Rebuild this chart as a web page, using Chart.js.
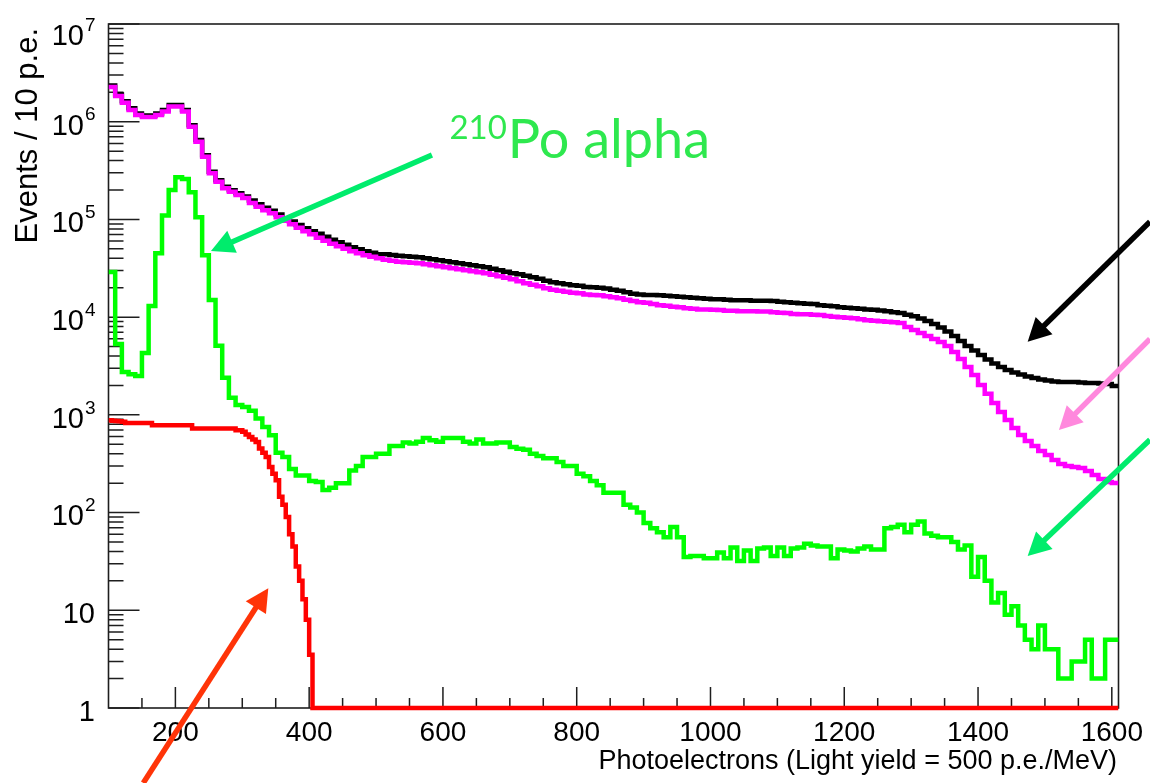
<!DOCTYPE html>
<html>
<head>
<meta charset="utf-8">
<title>Photoelectron spectrum</title>
<script src="https://cdn.jsdelivr.net/npm/chart.js@4.4.1/dist/chart.umd.min.js"></script>
<style>
  html, body { margin: 0; padding: 0; background: #ffffff; }
  #wrap { width: 1150px; height: 783px; position: relative; }
  canvas { display: block; }
</style>
</head>
<body>
<div id="wrap"><canvas id="spectrum" width="1150" height="783"></canvas></div>
<script>
// ---- Histogram binning (photoelectrons) ----
const BIN_START = 100;      // p.e.
const BIN_WIDTH = 10;       // p.e. per bin
const X_MIN = 100;
const X_MAX = 1610;

// ---- Counts per 10 p.e. bin, starting at 100 p.e. ----
const blackCounts = [
  2.35e6, 1.9e6, 1.62e6, 1.37e6, 1.21e6, 1.16e6, 1.16e6, 1.21e6, 1.32e6, 1.48e6,
  1.48e6, 1.32e6, 9.2e5, 6.5e5, 4.55e5, 3.08e5, 2.52e5, 2.16e5, 1.99e5, 1.85e5,
  1.72e5, 1.56e5, 1.43e5, 1.32e5, 1.23e5, 1.12e5, 1.03e5, 9.5e4, 8.75e4, 8.1e4,
  7.55e4, 7.15e4, 6.65e4, 6.2e4, 5.85e4, 5.5e4, 5.2e4, 4.96e4, 4.73e4, 4.56e4,
  4.41e4, 4.4e4, 4.33e4, 4.25e4, 4.2e4, 4.15e4, 4.1e4, 4.0e4, 3.92e4, 3.82e4,
  3.73e4, 3.64e4, 3.56e4, 3.48e4, 3.4e4, 3.32e4, 3.24e4, 3.13e4, 3.02e4, 2.91e4,
  2.81e4, 2.74e4, 2.65e4, 2.56e4, 2.47e4, 2.36e4, 2.28e4, 2.22e4, 2.17e4, 2.12e4,
  2.1e4, 2.04e4, 2.02e4, 2.0e4, 1.96e4, 1.91e4, 1.86e4, 1.8e4, 1.74e4, 1.71e4,
  1.69e4, 1.69e4, 1.68e4, 1.66e4, 1.64e4, 1.62e4, 1.6e4, 1.58e4, 1.56e4, 1.54e4,
  1.52e4, 1.52e4, 1.51e4, 1.49e4, 1.49e4, 1.49e4, 1.47e4, 1.47e4, 1.47e4, 1.46e4,
  1.44e4, 1.42e4, 1.4e4, 1.39e4, 1.37e4, 1.36e4, 1.32e4, 1.31e4, 1.29e4, 1.26e4,
  1.25e4, 1.23e4, 1.22e4, 1.2e4, 1.19e4, 1.17e4, 1.15e4, 1.12e4, 1.1e4, 1.06e4,
  1.02e4, 9.69e3, 9.14e3, 8.51e3, 7.84e3, 7.13e3, 6.42e3, 5.7e3, 5.07e3, 4.56e3,
  4.1e3, 3.69e3, 3.36e3, 3.09e3, 2.88e3, 2.71e3, 2.59e3, 2.47e3, 2.38e3, 2.3e3,
  2.25e3, 2.19e3, 2.17e3, 2.17e3, 2.17e3, 2.14e3, 2.12e3, 2.12e3, 2.09e3, 2.07e3,
  1.97e3
];

const magentaCounts = [
  2.27e6, 1.83e6, 1.56e6, 1.32e6, 1.17e6, 1.12e6, 1.12e6, 1.17e6, 1.27e6, 1.43e6,
  1.43e6, 1.27e6, 8.9e5, 6.25e5, 4.39e5, 2.97e5, 2.43e5, 2.08e5, 1.92e5, 1.78e5,
  1.66e5, 1.47e5, 1.35e5, 1.24e5, 1.16e5, 1.05e5, 9.7e4, 8.93e4, 8.22e4, 7.57e4,
  7.06e4, 6.5e4, 6.05e4, 5.64e4, 5.32e4, 5.01e4, 4.73e4, 4.51e4, 4.3e4, 4.15e4,
  4.01e4, 3.87e4, 3.78e4, 3.69e4, 3.65e4, 3.6e4, 3.56e4, 3.48e4, 3.4e4, 3.32e4,
  3.24e4, 3.16e4, 3.09e4, 3.02e4, 2.95e4, 2.88e4, 2.81e4, 2.72e4, 2.62e4, 2.53e4,
  2.44e4, 2.33e4, 2.22e4, 2.15e4, 2.07e4, 1.98e4, 1.91e4, 1.86e4, 1.82e4, 1.78e4,
  1.76e4, 1.71e4, 1.69e4, 1.68e4, 1.64e4, 1.6e4, 1.56e4, 1.51e4, 1.46e4, 1.42e4,
  1.4e4, 1.36e4, 1.32e4, 1.31e4, 1.28e4, 1.26e4, 1.23e4, 1.22e4, 1.2e4, 1.2e4,
  1.19e4, 1.18e4, 1.16e4, 1.16e4, 1.15e4, 1.15e4, 1.15e4, 1.14e4, 1.14e4, 1.12e4,
  1.11e4, 1.1e4, 1.08e4, 1.07e4, 1.07e4, 1.06e4, 1.05e4, 1.03e4, 1.01e4, 9.98e3,
  9.86e3, 9.75e3, 9.51e3, 9.29e3, 9.19e3, 9.08e3, 8.95e3, 8.85e3, 8.71e3, 7.93e3,
  7.39e3, 6.89e3, 6.42e3, 5.98e3, 5.57e3, 5.07e3, 4.4e3, 3.73e3, 3.09e3, 2.56e3,
  2.02e3, 1.64e3, 1.32e3, 1.07e3, 886, 734, 622, 540, 480, 427,
  388, 345, 314, 300, 293, 286, 267, 243, 221, 206,
  201
];

const greenCounts = [
  2.9e4, 5.3e3, 2.75e3, 2.6e3, 2.5e3, 4.3e3, 1.3e4, 4.5e4, 1.1e5, 2.0e5,
  2.7e5, 2.6e5, 1.9e5, 1.05e5, 4.3e4, 1.5e4, 5.1e3, 2.4e3, 1.5e3, 1.26e3,
  1.2e3, 1.1e3, 920, 750, 620, 410, 370, 280, 240, 240,
  210, 205, 170, 180, 200, 200, 270, 300, 370, 370,
  400, 400, 480, 480, 520, 510, 530, 580, 550, 530,
  580, 580, 580, 530, 510, 560, 510, 510, 520, 520,
  470, 450, 440, 400, 380, 360, 360, 330, 300, 300,
  250, 235, 210, 190, 160, 160, 160, 120, 113, 100,
  78, 69, 63, 56, 71, 56, 35, 36, 36, 34,
  34, 39, 34, 44, 32, 41, 32, 43, 44, 36,
  44, 36, 43, 44, 48, 46, 45, 45, 34, 42,
  41, 40, 43, 45, 42, 42, 69, 71, 75, 63,
  75, 81, 61, 58, 56, 56, 50, 42, 46, 22,
  35, 20, 12, 15, 9, 11, 7, 5, 4, 7,
  4, 4, 2, 2, 3, 3, 5, 2, 2, 5,
  5
];

// Red component uses finer 5 p.e. bins from 100 p.e.; the bins above are empty.
const RED_BIN_START = 100;
const RED_BIN_WIDTH = 5;
const redCounts = [
  880, 870, 865, 860, 850,
  826, 826, 826, 826, 826, 826, 826, 826,
  783, 783, 783, 783, 783, 783, 783, 783, 783, 783, 783, 783,
  724, 724, 724, 724, 724, 724, 724, 724, 724, 724, 724, 724, 724,
  695, 695, 670, 630, 594, 560, 528, 452, 410, 370,
  293, 250, 214, 145, 120, 90, 60, 45, 28, 20,
  13, 8, 3.5
];

// ---- Axis ticks and labels ----
const xMajorTicks = [200, 400, 600, 800, 1000, 1200, 1400, 1600];
const xMinorTicks = [150, 250, 300, 350, 450, 500, 550, 650, 700, 750, 850, 900, 950,
  1050, 1100, 1150, 1250, 1300, 1350, 1450, 1500, 1550];
const yDecades = [0, 1, 2, 3, 4, 5, 6, 7];
const xTitle = 'Photoelectrons (Light yield = 500 p.e./MeV)';
const yTitle = 'Events / 10 p.e.';

// ---- Annotation arrows, given in data units [p.e., events] ----
const arrows = [
  { from: [583.6, 4.57e5], to: [253.2, 4.75e4], color: '#00ec6c' },
  { from: [1657, 9.48e4],  to: [1474.2, 5.61e3], color: '#000000' },
  { from: [1657, 5.98e3],  to: [1521, 700],     color: '#ff88dd' },
  { from: [1657, 556],     to: [1474.2, 35.9],  color: '#00ec6c' },
  { from: [152, 0.171],    to: [338.9, 16.8],   color: '#ff3408' }
];
const poLabel = { at: [697, 4.26e5], mass: '210', text: 'Po alpha', color: '#2ee84e' };

// Step outline points at the low edge of each bin, closed at the last upper edge.
function histogram(start, width, counts) {
  const pts = counts.map((c, i) => ({ x: start + i * width, y: c }));
  pts.push({ x: start + counts.length * width, y: counts[counts.length - 1] });
  return pts;
}

const redPoints = redCounts.map((c, i) => ({ x: RED_BIN_START + i * RED_BIN_WIDTH, y: c }));
redPoints.push({ x: RED_BIN_START + redCounts.length * RED_BIN_WIDTH, y: 0 });
redPoints.push({ x: X_MAX, y: 0 });

const FONT = '"Liberation Sans", Arial, Helvetica, sans-serif';
const LABEL_FONT = 'Lato, "Open Sans", sans-serif';

const frameAndLabels = {
  id: 'frameAndLabels',
  beforeDatasetsDraw(chart) {
    const { ctx, chartArea: a, scales: { x, y } } = chart;
    ctx.save();
    // frame
    ctx.strokeStyle = '#1e1e1e';
    ctx.lineWidth = 1.6;
    ctx.strokeRect(a.left, a.top, a.right - a.left, a.bottom - a.top);

    // ticks pointing inward
    ctx.lineWidth = 1.5;
    ctx.beginPath();
    xMajorTicks.forEach(v => {
      const px = x.getPixelForValue(v);
      ctx.moveTo(px, a.bottom); ctx.lineTo(px, a.bottom - 21);
    });
    xMinorTicks.forEach(v => {
      const px = x.getPixelForValue(v);
      ctx.moveTo(px, a.bottom); ctx.lineTo(px, a.bottom - 10);
    });
    yDecades.forEach(d => {
      const py = y.getPixelForValue(Math.pow(10, d));
      ctx.moveTo(a.left, py); ctx.lineTo(a.left + 31, py);
      if (d < 7) {
        for (let m = 2; m <= 9; m++) {
          const pm = y.getPixelForValue(m * Math.pow(10, d));
          ctx.moveTo(a.left, pm); ctx.lineTo(a.left + 15, pm);
        }
      }
    });
    ctx.stroke();

    // tick labels
    ctx.fillStyle = '#000';
    ctx.font = '28px ' + FONT;
    ctx.textAlign = 'center';
    ctx.textBaseline = 'alphabetic';
    xMajorTicks.forEach(v => {
      ctx.fillText(String(v), x.getPixelForValue(v), 741);
    });

    yDecades.forEach(d => {
      const py = y.getPixelForValue(Math.pow(10, d));
      const shift = d === 7 ? 11 : 2.5;
      const base = py + shift + 10.4;
      ctx.font = '29px ' + FONT;
      if (d === 0) {
        ctx.textAlign = 'right';
        ctx.fillText('1', 95, base);
      } else if (d === 1) {
        ctx.textAlign = 'right';
        ctx.fillText('10', 95, base);
      } else {
        ctx.textAlign = 'right';
        ctx.fillText('10', 84, base);
        ctx.font = '19px ' + FONT;
        ctx.textAlign = 'left';
        ctx.fillText(String(d), 85, base - 14.2);
      }
    });

    // axis titles
    ctx.font = '27px ' + FONT;
    ctx.textAlign = 'right';
    ctx.fillText(xTitle, 1117, 769);

    ctx.save();
    ctx.translate(37, 28);
    ctx.rotate(-Math.PI / 2);
    ctx.font = '31px ' + FONT;
    ctx.textAlign = 'right';
    ctx.fillText(yTitle, 0, 0);
    ctx.restore();

    ctx.restore();
  },
  afterDatasetsDraw(chart) {
    const { ctx, scales: { x, y } } = chart;
    ctx.save();
    arrows.forEach(arw => {
      const x0 = x.getPixelForValue(arw.from[0]), y0 = y.getPixelForValue(arw.from[1]);
      const x1 = x.getPixelForValue(arw.to[0]), y1 = y.getPixelForValue(arw.to[1]);
      const ang = Math.atan2(y1 - y0, x1 - x0);
      const headLen = 23, headHalf = 12;
      const bx = x1 - headLen * Math.cos(ang), by = y1 - headLen * Math.sin(ang);
      ctx.strokeStyle = arw.color;
      ctx.fillStyle = arw.color;
      ctx.lineWidth = 5.5;
      ctx.lineCap = 'butt';
      ctx.beginPath();
      ctx.moveTo(x0, y0);
      ctx.lineTo(bx + 2 * Math.cos(ang), by + 2 * Math.sin(ang));
      ctx.stroke();
      ctx.beginPath();
      ctx.moveTo(x1, y1);
      ctx.lineTo(bx + headHalf * Math.sin(ang), by - headHalf * Math.cos(ang));
      ctx.lineTo(bx - headHalf * Math.sin(ang), by + headHalf * Math.cos(ang));
      ctx.closePath();
      ctx.fill();
    });

    // isotope label
    const lx = x.getPixelForValue(poLabel.at[0]);
    const ly = y.getPixelForValue(poLabel.at[1]);
    ctx.fillStyle = poLabel.color;
    ctx.textBaseline = 'alphabetic';
    ctx.font = '54px ' + LABEL_FONT;
    ctx.textAlign = 'left';
    ctx.fillText(poLabel.text, lx, ly);
    ctx.font = '33px ' + LABEL_FONT;
    ctx.textAlign = 'right';
    ctx.fillText(poLabel.mass, lx - 1, ly - 19);
    ctx.restore();
  }
};

const lineStyle = {
  stepped: true,
  pointRadius: 0,
  pointHoverRadius: 0,
  borderWidth: 4.5,
  borderJoinStyle: 'miter',
  borderCapStyle: 'butt',
  fill: false,
  tension: 0,
  clip: { left: 0, top: 0, right: 0, bottom: 3 }
};

new Chart(document.getElementById('spectrum'), {
  type: 'line',
  data: {
    datasets: [
      Object.assign({ label: 'Red', data: redPoints, borderColor: '#ff0000', order: 0 }, lineStyle),
      Object.assign({ label: 'Green', data: histogram(BIN_START, BIN_WIDTH, greenCounts), borderColor: '#00ff00', order: 1 }, lineStyle),
      Object.assign({ label: 'Magenta', data: histogram(BIN_START, BIN_WIDTH, magentaCounts), borderColor: '#ff00ff', order: 2 }, lineStyle),
      Object.assign({ label: 'Black', data: histogram(BIN_START, BIN_WIDTH, blackCounts), borderColor: '#000000', order: 3 }, lineStyle)
    ]
  },
  options: {
    responsive: false,
    devicePixelRatio: 1,
    animation: false,
    parsing: false,
    normalized: true,
    events: [],
    layout: { padding: { left: 0, top: 24, right: 31.5, bottom: 0 } },
    plugins: { legend: { display: false }, tooltip: { enabled: false } },
    scales: {
      x: {
        type: 'linear', min: X_MIN, max: X_MAX,
        grid: { display: false }, border: { display: false },
        ticks: { display: false },
        afterFit(scale) { scale.height = 75; }
      },
      y: {
        type: 'logarithmic', min: 1, max: 1e7,
        grid: { display: false }, border: { display: false },
        ticks: { display: false },
        afterFit(scale) { scale.width = 108.5; }
      }
    }
  },
  plugins: [frameAndLabels]
});
</script>
</body>
</html>
